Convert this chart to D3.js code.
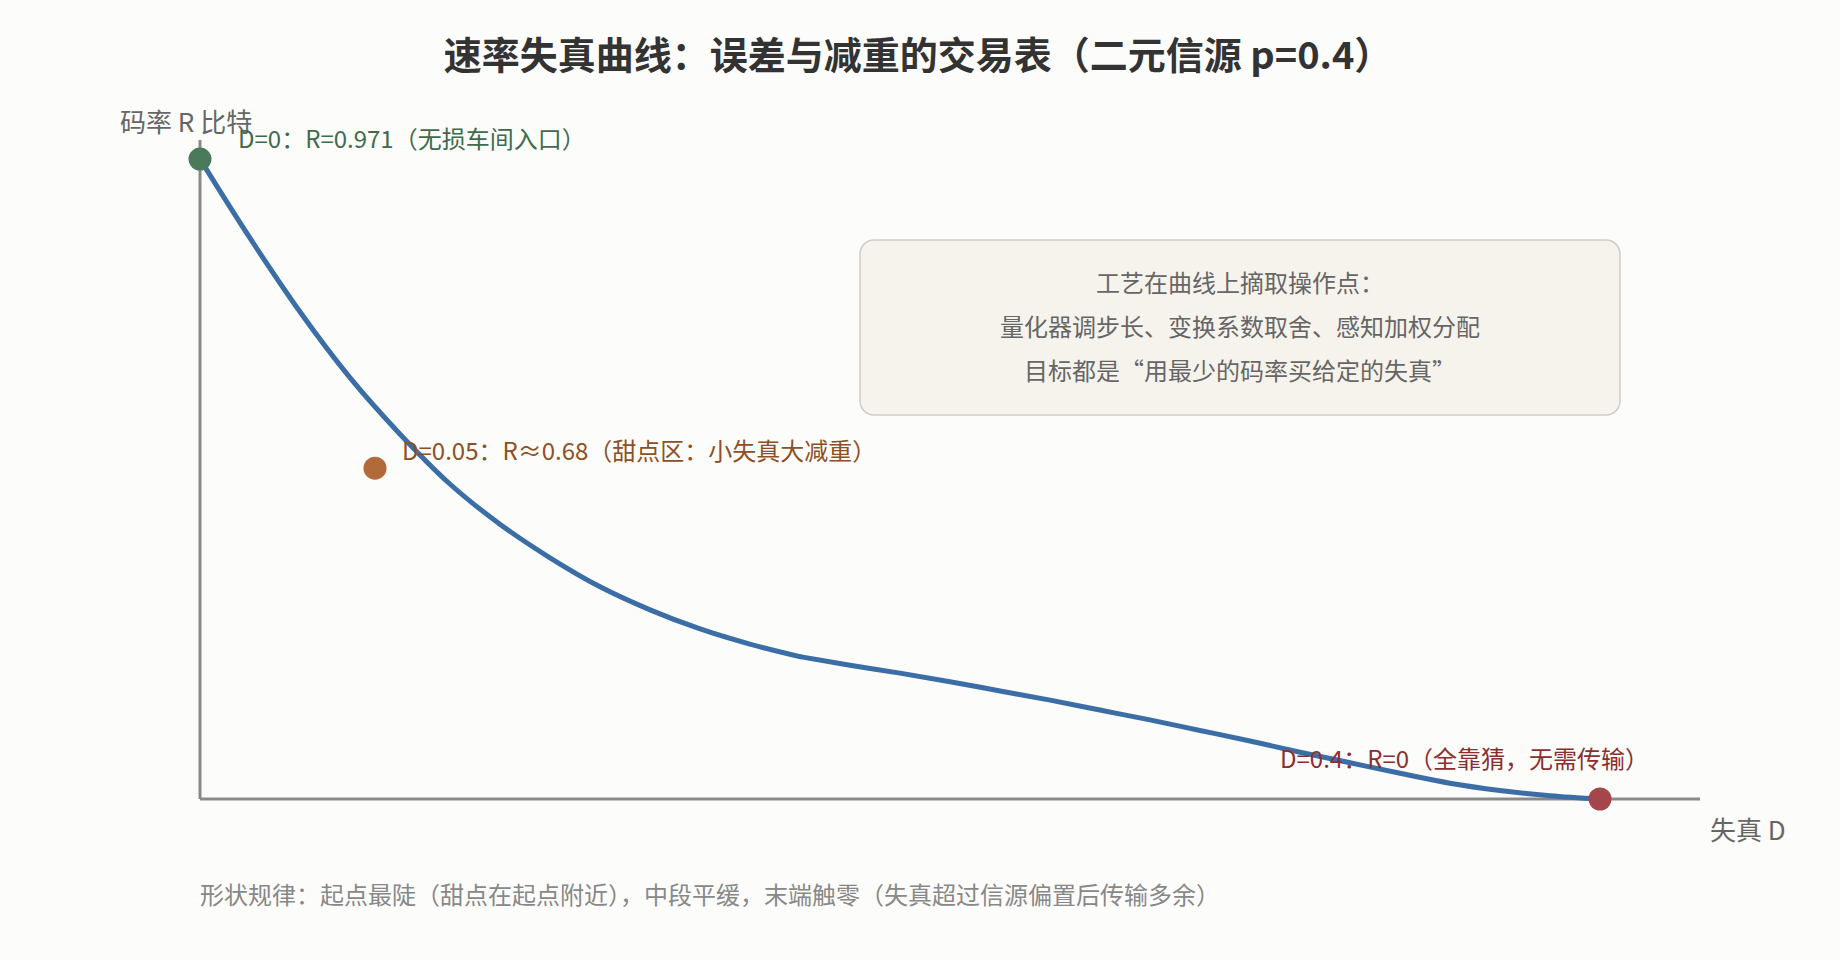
<!DOCTYPE html>
<html>
<head>
<meta charset="utf-8">
<script src="https://cdn.jsdelivr.net/npm/d3@7"></script>
<style>
  html, body { margin: 0; padding: 0; background: #fcfcfa; }
  svg { display: block; font-family: "Noto Sans CJK SC", "Noto Sans", sans-serif; }
</style>
</head>
<body>
<svg id="chart" width="1840" height="960"></svg>
<script>
// ---- data ----
// steep head of the curve (D = 0 .. ~0.171)
const headD = [0, 0.0143, 0.0286, 0.0429, 0.0571, 0.0714, 0.0857, 0.1, 0.1143, 0.1286, 0.1429, 0.1571, 0.1714];
const headR = [0.971, 0.851, 0.739, 0.639, 0.554, 0.478, 0.417, 0.366, 0.322, 0.287, 0.258, 0.235, 0.216];
// flat tail of the curve (D = ~0.171 .. 0.4)
const tailD = [0.1714, 0.1857, 0.2, 0.2143, 0.2286, 0.2429, 0.2571, 0.2714, 0.2857, 0.3, 0.3143, 0.3286, 0.3429, 0.3571, 0.3714, 0.3857, 0.4];
const tailR = [0.216, 0.203, 0.191, 0.178, 0.164, 0.150, 0.135, 0.120, 0.104, 0.088, 0.071, 0.055, 0.039, 0.024, 0.013, 0.005, 0];

const markD = [0, 0.05, 0.4];
const markR = [0.971, 0.502, 0];
const markLabels = ["D=0：R=0.971（无损车间入口）", "D=0.05：R≈0.68（甜点区：小失真大减重）", "D=0.4：R=0（全靠猜，无需传输）"];
const markColors = ["#4b7a5a", "#b36a3b", "#a5464a"];
const labelColors = ["#3f6b4c", "#8d4f26", "#8a2f2f"];

const titleText = "速率失真曲线：误差与减重的交易表（二元信源 p=0.4）";
const yAxisLabel = "码率 R 比特";
const xAxisLabel = "失真 D";
const boxLines = ["工艺在曲线上摘取操作点：", "量化器调步长、变换系数取舍、感知加权分配", "目标都是“用最少的码率买给定的失真”"];
const noteText = "形状规律：起点最陡（甜点在起点附近），中段平缓，末端触零（失真超过信源偏置后传输多余）";

// ---- drawing ----
const svg = d3.select("#chart");
svg.append("rect").attr("width", 1840).attr("height", 960).attr("fill", "#fcfcfa");

const x = d3.scaleLinear().domain([0, 0.4]).range([200, 1600]);
const y = d3.scaleLinear().domain([0, 1]).range([799, 140]);

// title
svg.append("text").attr("x", 918).attr("y", 69).attr("text-anchor", "middle")
  .attr("font-size", 38).attr("font-weight", "bold").attr("fill", "#333")
  .text(titleText);

// axes (plain lines, no ticks)
svg.append("line").attr("x1", x(0)).attr("x2", 1700).attr("y1", y(0)).attr("y2", y(0))
  .attr("stroke", "#8a8a8a").attr("stroke-width", 3);
svg.append("line").attr("x1", x(0)).attr("x2", x(0)).attr("y1", y(0)).attr("y2", y(1))
  .attr("stroke", "#8a8a8a").attr("stroke-width", 3);

svg.append("text").attr("x", 120).attr("y", 132).attr("font-size", 26).attr("fill", "#666")
  .text(yAxisLabel);
svg.append("text").attr("x", 1710).attr("y", 840).attr("font-size", 26).attr("fill", "#666")
  .text(xAxisLabel);

// annotation box
const box = svg.append("g");
box.append("rect").attr("x", 860).attr("y", 240).attr("width", 760).attr("height", 175)
  .attr("rx", 14).attr("fill", "#f6f3ed").attr("stroke", "#cfcdc9").attr("stroke-width", 1.5);
boxLines.forEach((t, i) => {
  box.append("text").attr("x", 1240).attr("y", 292 + i * 44).attr("text-anchor", "middle")
    .attr("font-size", 24).attr("fill", "#666").text(t);
});

// curve (two smooth pieces meeting at the knee)
const line = d3.line().x(d => x(d[0])).y(d => y(d[1])).curve(d3.curveMonotoneX);
[[headD, headR], [tailD, tailR]].forEach(([ds, rs]) => {
  svg.append("path").datum(ds.map((d, i) => [d, rs[i]]))
    .attr("fill", "none").attr("stroke", "#3b6ea6").attr("stroke-width", 5)
    .attr("stroke-linecap", "round").attr("d", line);
});

// marked points
const labelOffsets = [[38, -11], [27, -8], [-320, -31]];
markD.forEach((d, i) => {
  svg.append("circle").attr("cx", x(d)).attr("cy", y(markR[i])).attr("r", 11.5)
    .attr("fill", markColors[i]);
  svg.append("text").attr("x", x(d) + labelOffsets[i][0]).attr("y", y(markR[i]) + labelOffsets[i][1])
    .attr("font-size", 24).attr("fill", labelColors[i]).text(markLabels[i]);
});

// bottom note
svg.append("text").attr("x", 200).attr("y", 904).attr("font-size", 24).attr("fill", "#888")
  .text(noteText);
</script>
</body>
</html>
